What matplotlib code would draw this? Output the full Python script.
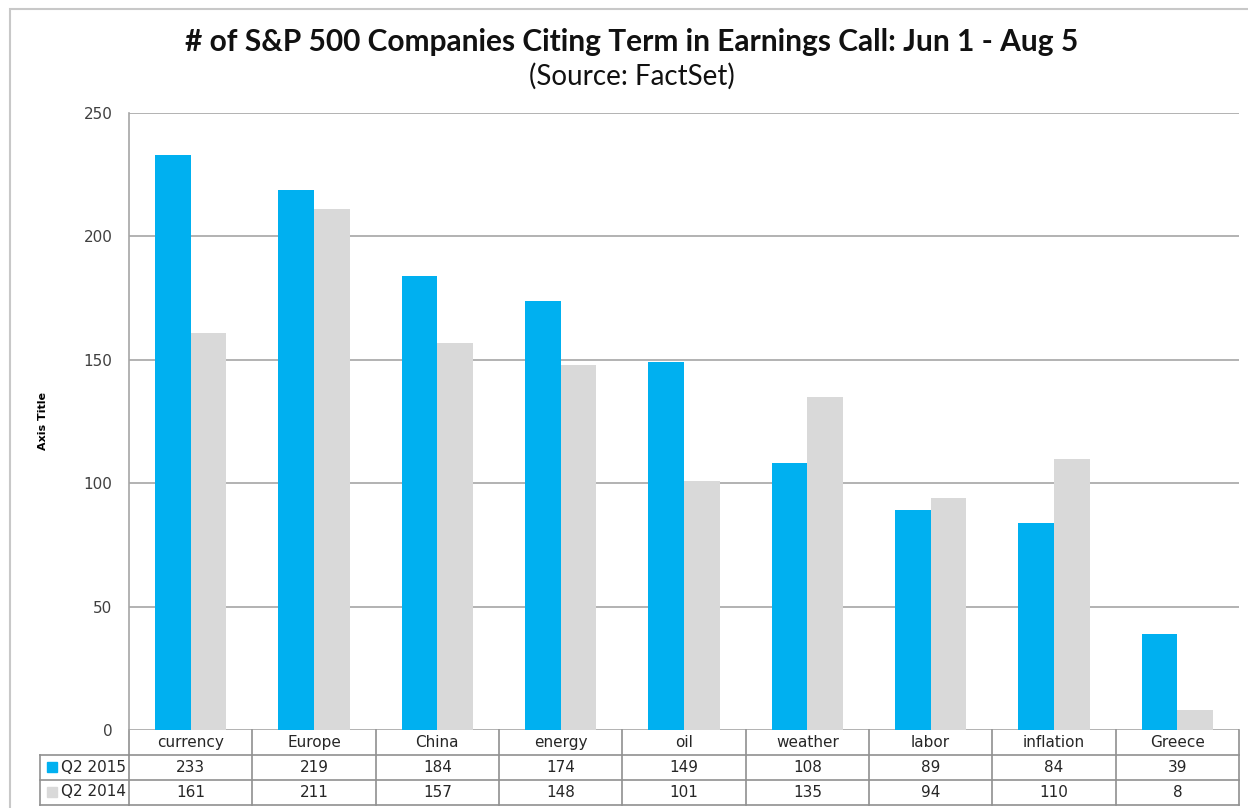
import numpy as np
import matplotlib.pyplot as plt
from matplotlib.transforms import blended_transform_factory
from matplotlib.patches import Rectangle
from matplotlib.lines import Line2D

# dane z tabeli pod wykresem
categories = ["currency", "Europe", "China", "energy", "oil", "weather", "labor", "inflation", "Greece"]
q2_2015 = [233, 219, 184, 174, 149, 108, 89, 84, 39]
q2_2014 = [161, 211, 157, 148, 101, 135, 94, 110, 8]
series_names = ["Q2 2015", "Q2 2014"]
colors = ["#00B0F0", "#D9D9D9"]

W, H = 1248, 808
fig = plt.figure(figsize=(W / 100, H / 100), dpi=100)
ax = fig.add_axes([129 / W, 1 - 730 / H, 1110 / W, 617 / H])

x = np.arange(len(categories))
bw = 0.29
ax.bar(x - bw / 2, q2_2015, bw, color=colors[0], zorder=3)
ax.bar(x + bw / 2, q2_2014, bw, color=colors[1], zorder=3)

ax.set_xlim(-0.5, len(categories) - 0.5)
ax.set_ylim(0, 250)
ax.set_yticks(np.arange(0, 251, 50))
ax.yaxis.grid(True, color="#A6A6A6", linewidth=1.2, zorder=0)
ax.tick_params(axis="y", length=0, pad=12, labelsize=11, labelcolor="#404040")
ax.set_xticks([])
for s in ["top", "right", "bottom"]:
    ax.spines[s].set_visible(False)
ax.spines["left"].set_color("#A6A6A6")
ax.spines["left"].set_linewidth(1.2)

ax.set_ylabel("Axis Title", fontsize=8, fontweight="bold")
ax.yaxis.set_label_coords(-0.073, 0.5)

# tabela danych pod osia
tr = blended_transform_factory(ax.transData, ax.transAxes)
rh = 25 / 617
lc = "#909090"
n = len(categories)
# poziome linie
for k in range(1, 4):
    y = -k * rh
    ax.add_line(Line2D([-0.5, n - 0.5], [y, y], transform=tr, color=lc, lw=1.2, clip_on=False))
lx = -0.5 - 89 / (1110 / n)
for k in [1, 2, 3]:
    y = -k * rh
    ax.add_line(Line2D([lx, -0.5], [y, y], transform=tr, color=lc, lw=1.2, clip_on=False))
ax.add_line(Line2D([lx, lx], [-rh, -3 * rh], transform=tr, color=lc, lw=1.2, clip_on=False))
# pionowe linie
for i in range(n + 1):
    ax.add_line(Line2D([i - 0.5, i - 0.5], [0, -3 * rh], transform=tr, color=lc, lw=1.2, clip_on=False))

for i, c in enumerate(categories):
    ax.text(i, -0.5 * rh, c, transform=tr, ha="center", va="center", fontsize=11, color="#262626")
    ax.text(i, -1.5 * rh, str(q2_2015[i]), transform=tr, ha="center", va="center", fontsize=11, color="#262626")
    ax.text(i, -2.5 * rh, str(q2_2014[i]), transform=tr, ha="center", va="center", fontsize=11, color="#262626")

for k, (name, col) in enumerate(zip(series_names, colors)):
    fig.patches.append(Rectangle((47 / W, 1 - (767 + 25 * k + 5) / H), 10 / W, 10 / H,
                                 transform=fig.transFigure, color=col))
    fig.text(61 / W, 1 - (767 + 25 * k) / H, name, ha="left", va="center", fontsize=11, color="#262626")

# tytul
fig.text(632 / W, 1 - 42 / H, "# of S&P 500 Companies Citing Term in Earnings Call: Jun 1 - Aug 5",
         ha="center", va="center", fontsize=21.5, fontweight="bold", family="Lato", color="#111111")
fig.text(632 / W, 1 - 76 / H, "(Source: FactSet)", ha="center", va="center", fontsize=20,
         family="Lato", color="#111111")

# ramka wykresu
fig.patches.append(Rectangle((10 / W, -0.01), 1.1, 1 - 9 / H + 0.01, transform=fig.transFigure,
                             fill=False, edgecolor="#C8C8C8", lw=1.5))

fig.savefig("out.png", dpi=100)
